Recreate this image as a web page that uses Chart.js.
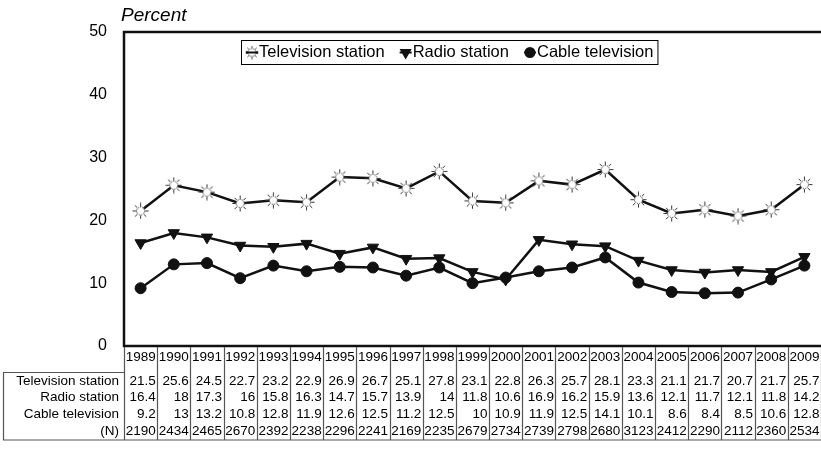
<!DOCTYPE html>
<html>
<head>
<meta charset="utf-8">
<script src="https://cdn.jsdelivr.net/npm/chart.js@4.4.0/dist/chart.umd.min.js"></script>
<style>
html,body{margin:0;padding:0;background:#fff;}
#wrap{width:821px;height:451px;position:relative;}
</style>
</head>
<body>
<div id="wrap"><canvas id="c" width="821" height="451"></canvas></div>
<script>
const years = ['1989','1990','1991','1992','1993','1994','1995','1996','1997','1998','1999','2000','2001','2002','2003','2004','2005','2006','2007','2008','2009'];
const tvStation = [21.5,25.6,24.5,22.7,23.2,22.9,26.9,26.7,25.1,27.8,23.1,22.8,26.3,25.7,28.1,23.3,21.1,21.7,20.7,21.7,25.7];
const radioStation = [16.4,18,17.3,16,15.8,16.3,14.7,15.7,13.9,14,11.8,10.6,16.9,16.2,15.9,13.6,12.1,11.7,12.1,11.8,14.2];
const cableTv = [9.2,13,13.2,10.8,12.8,11.9,12.6,12.5,11.2,12.5,10,10.9,11.9,12.5,14.1,10.1,8.6,8.4,8.5,10.6,12.8];
const nCounts = [2190,2434,2465,2670,2392,2238,2296,2241,2169,2235,2679,2734,2739,2798,2680,3123,2412,2290,2112,2360,2534];
const seriesNames = ['Television station','Radio station','Cable television'];
const rowLabels = ['Television station','Radio station','Cable television','(N)'];
const yTicks = [0,10,20,30,40,50];

const FONT = '"Liberation Sans", Arial, sans-serif';

// sun-like marker
function makeSun(size){
  const c = document.createElement('canvas');
  c.width = size; c.height = size;
  const g = c.getContext('2d');
  const m = size/2;
  g.strokeStyle = '#333';
  g.lineWidth = 1;
  for(let i=0;i<8;i++){
    const a = i*Math.PI/4;
    g.beginPath();
    g.moveTo(m+Math.cos(a)*4.6, m+Math.sin(a)*4.6);
    g.lineTo(m+Math.cos(a)*(m-0.5), m+Math.sin(a)*(m-0.5));
    g.stroke();
  }
  g.beginPath();
  g.arc(m,m,4,0,Math.PI*2);
  g.fillStyle='#fff';
  g.fill();
  g.setLineDash([1.3,0.9]);
  g.stroke();
  return c;
}
const sun = makeSun(17);
const sunSmall = makeSun(14);

const framePlugin = {
  id:'frame',
  beforeDatasetsDraw(chart){
    const {ctx, chartArea:a} = chart;
    ctx.save();
    ctx.strokeStyle='#111';
    ctx.lineWidth=2.5;
    ctx.beginPath();
    ctx.moveTo(a.right, a.top); ctx.lineTo(a.left, a.top); ctx.lineTo(a.left, a.bottom); ctx.lineTo(a.right, a.bottom);
    ctx.stroke();
    ctx.restore();
  },
  afterDraw(chart){
    const {ctx, chartArea:a} = chart;
    const xs = chart.scales.x;
    const w = xs.getPixelForValue(1) - xs.getPixelForValue(0);
    const tableTop = 372, tableBottom = 440;
    ctx.save();
    // vertical separators
    ctx.strokeStyle='#555';
    ctx.lineWidth=1.2;
    for(let i=0;i<=years.length;i++){
      const x = Math.round(xs.getPixelForValue(0) - w/2 + i*w)+0.5;
      ctx.beginPath(); ctx.moveTo(x, a.bottom+1); ctx.lineTo(x, tableBottom); ctx.stroke();
    }
    // label column border
    ctx.beginPath();
    ctx.moveTo(a.left, tableTop+0.5); ctx.lineTo(3.5, tableTop+0.5); ctx.lineTo(3.5, tableBottom); ctx.lineTo(a.right, tableBottom);
    ctx.stroke();
    // text
    ctx.fillStyle='#000';
    ctx.font = '13.5px ' + FONT;
    ctx.textBaseline='middle';
    ctx.textAlign='right';
    const rows = [tvStation, radioStation, cableTv, nCounts];
    const rowY = [381, 397.5, 414.5, 431];
    years.forEach((yr,i)=>{
      const cx = xs.getPixelForValue(i);
      ctx.fillText(yr, cx + w/2 - 1.5, 357);
      rows.forEach((r,k)=>{
        ctx.fillText(String(r[i]), cx + w/2 - 1.5, rowY[k]);
      });
    });
    rowLabels.forEach((lb,k)=>{
      ctx.fillText(lb, a.left - 5, rowY[k]);
    });
    // Percent label
    ctx.font = 'italic 19px ' + FONT;
    ctx.textAlign='left';
    ctx.fillText('Percent', 121, 16);
    // legend
    const lx0 = 241, ly0 = 40, lh = 24;
    ctx.font = '16.5px ' + FONT;
    let widths = seriesNames.map(s=>ctx.measureText(s).width);
    let x = lx0 + 4;
    const items = [];
    seriesNames.forEach((s,i)=>{
      items.push({mx:x+7, tx:x+14, s});
      x += 14 + widths[i] + 14;
    });
    const lx1 = x - 14 + 4;
    ctx.fillStyle='#fff';
    ctx.fillRect(lx0, ly0, lx1-lx0, lh);
    ctx.strokeStyle='#000'; ctx.lineWidth=1;
    ctx.strokeRect(lx0+0.5, ly0+0.5, lx1-lx0, lh);
    const my = ly0 + lh/2 + 0.5;
    items.forEach((it,i)=>{
      ctx.strokeStyle='#111'; ctx.lineWidth=2;
      ctx.beginPath(); ctx.moveTo(it.mx-6, my); ctx.lineTo(it.mx+6, my); ctx.stroke();
      ctx.fillStyle='#111';
      if(i===0){
        ctx.drawImage(sunSmall, it.mx-7, my-7);
        ctx.beginPath(); ctx.moveTo(it.mx-6, my); ctx.lineTo(it.mx+6, my); ctx.stroke();
      } else if(i===1){
        Chart.helpers.drawPoint(ctx, {pointStyle:'triangle', rotation:180, radius:5, borderWidth:1}, it.mx, my);
      } else {
        Chart.helpers.drawPoint(ctx, {pointStyle:'circle', rotation:0, radius:4.5, borderWidth:1}, it.mx, my);
      }
      ctx.fillStyle='#000';
      ctx.textAlign='left'; ctx.textBaseline='middle';
      ctx.fillText(it.s, it.tx, my);
    });
    ctx.restore();
  }
};

new Chart(document.getElementById('c'), {
  type:'line',
  data:{
    labels: years,
    datasets:[
      {label:seriesNames[0], data:tvStation, borderColor:'#111', borderWidth:2.5, pointStyle:sun, pointRadius:8, pointHoverRadius:8, tension:0},
      {label:seriesNames[1], data:radioStation, borderColor:'#111', backgroundColor:'#111', borderWidth:2.5, pointStyle:'triangle', rotation:180, pointRadius:6.5, pointBorderWidth:1, tension:0},
      {label:seriesNames[2], data:cableTv, borderColor:'#111', backgroundColor:'#111', borderWidth:2.5, pointStyle:'circle', pointRadius:5.5, pointBorderWidth:1, tension:0}
    ]
  },
  options:{
    responsive:false,
    animation:false,
    devicePixelRatio:1,
    layout:{autoPadding:false, padding:{left:0,right:0,top:32,bottom:105}},
    plugins:{legend:{display:false}, tooltip:{enabled:false}, title:{display:false}},
    scales:{
      x:{type:'category', display:false, offset:true},
      y:{
        min:0, max:50,
        afterFit(s){ s.width = 124; },
        afterBuildTicks(s){ s.ticks = yTicks.map(v=>({value:v})); },
        grid:{display:false, drawTicks:false},
        border:{display:false},
        ticks:{padding:17, color:'#000', font:{family:FONT, size:16}}
      }
    }
  },
  plugins:[framePlugin]
});
</script>
</body>
</html>
